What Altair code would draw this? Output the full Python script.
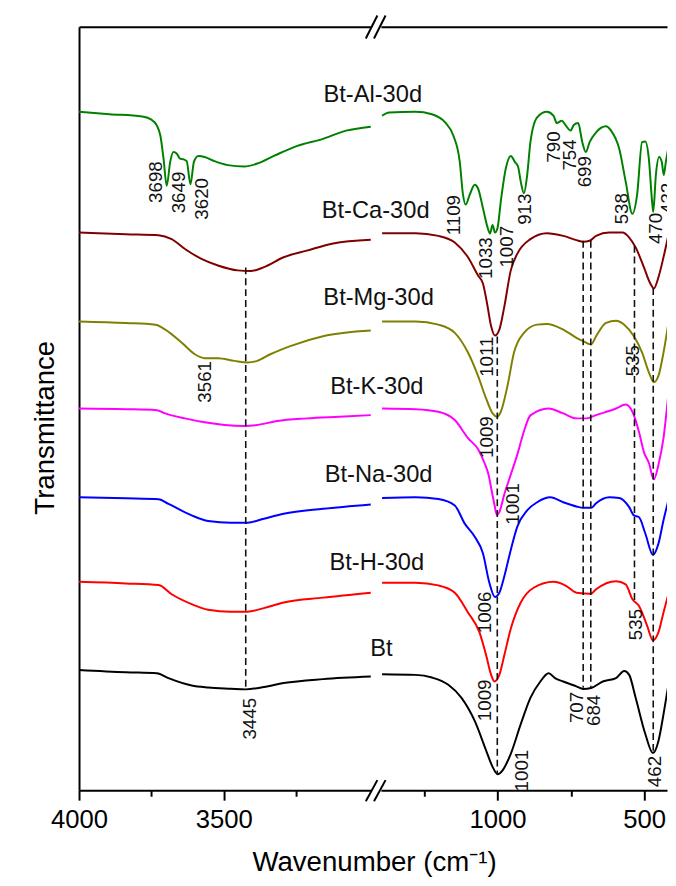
import altair as alt
import pandas as pd

FONT = "Liberation Sans"

SERIES = ["Bt-Al-30d", "Bt-Ca-30d", "Bt-Mg-30d", "Bt-K-30d", "Bt-Na-30d", "Bt-H-30d", "Bt"]
COLORS = ["#008000", "#800000", "#808000", "#FF00FF", "#0000FF", "#FF0000", "#000000"]

# wavenumber (cm-1) and transmittance (arbitrary offset units) of each spectrum
AL_WN = [4000, 3895, 3782, 3753, 3731, 3719, 3708, 3697, 3685, 3674, 3662, 3651, 3640, 3628, 3615, 3603, 3588, 3566, 3532, 3486, 3429, 3384, 3327, 3248, 3157, 3077, 2992,
         1394, 1370, 1280, 1224, 1179, 1151, 1129, 1118, 1109, 1095, 1078, 1067, 1050, 1034, 1026, 1017, 1009, 1000, 989, 972, 955, 941, 930, 921, 910, 899, 888, 865, 832, 809, 798, 781, 767, 751, 740, 725, 711, 699, 686, 664, 630, 613, 585, 563, 540, 524, 507, 496, 484, 473, 469, 460, 449, 440, 433, 426, 419]
AL_T = [687.7, 685.3, 683, 680.3, 673.7, 663.7, 640.3, 612.7, 637, 647, 645.3, 640.3, 639.7, 637.7, 614.3, 637, 643, 642, 637.7, 633.7, 632.3, 635.3, 643, 653, 660.3, 668.7, 672.7,
        683.7, 687, 687.7, 685.3, 677, 663.7, 637, 603.7, 593.7, 603.7, 613.7, 610.3, 590.3, 570.3, 564.3, 573, 565.3, 570.3, 597, 630.3, 643, 637, 632, 617, 605.3, 623.7, 657, 682, 687.7, 683.7, 676.3, 678.7, 673.7, 668.7, 674.3, 676.3, 657, 647, 657, 667, 673, 668.7, 650.3, 617, 584.3, 603.7, 657, 657.7, 640.3, 597, 586.3, 623.7, 642, 637, 623.7, 637, 648.7]

CA_WN = [4000, 3838, 3725, 3680, 3634, 3577, 3520, 3452, 3407, 3361, 3293, 3213, 3122, 2992,
         1394, 1280, 1202, 1146, 1101, 1067, 1050, 1036, 1022, 1009, 994, 977, 955, 933, 888, 832, 776, 731, 708, 686, 664, 619, 574, 551, 529, 501, 479, 467, 451, 434, 419]
CA_T = [565.3, 563.7, 562.7, 558.7, 548.7, 538.7, 532, 527, 526.3, 530.3, 540.3, 547, 554.3, 558,
        564.7, 564.7, 562, 555.3, 540.3, 522, 513.7, 493.7, 470.3, 461, 467, 490.3, 527, 543.7, 558.7, 564.7, 562, 557.7, 556, 557, 562, 565.3, 565.3, 560.3, 550.3, 530.3, 513.7, 508.7, 520.3, 540.3, 560.3]

MG_WN = [4000, 3838, 3736, 3702, 3645, 3600, 3566, 3520, 3463, 3418, 3384, 3339, 3270, 3157, 2992,
         1394, 1280, 1202, 1146, 1101, 1067, 1039, 1017, 1002, 989, 966, 944, 910, 865, 832, 776, 731, 708, 681, 664, 630, 596, 568, 535, 507, 484, 467, 451, 434, 419]
MG_T = [475.3, 473.7, 472, 467, 453.7, 442, 438, 438, 435.3, 433.7, 435.3, 442, 450.3, 460.3, 466,
        475.3, 475.3, 472, 463.7, 443.7, 420.3, 397, 382, 378.7, 383.7, 410.3, 443.7, 463.7, 472, 472.7, 467, 458.7, 455.3, 452, 460.3, 473.7, 476, 472, 460.3, 443.7, 423.7, 413.7, 420.3, 443.7, 470.3]

K_WN = [4000, 3838, 3731, 3702, 3634, 3566, 3497, 3429, 3384, 3316, 3213, 3100, 2992,
        1394, 1280, 1202, 1146, 1101, 1065, 1045, 1031, 1021, 1011, 1002, 994, 977, 955, 933, 910, 888, 826, 776, 731, 697, 664, 596, 563, 540, 518, 500, 484, 467, 451, 434, 419]
K_T = [387, 386.3, 385.3, 382, 377, 373, 370.3, 369.3, 370.3, 374.3, 377, 378.7, 380.3,
       387, 386.3, 383.7, 375.3, 357, 345, 332, 320, 305, 290, 279, 282, 300, 320, 340, 364, 380, 387, 382, 377, 377, 380.3, 387, 391, 383.7, 363.7, 342, 332, 315.3, 330.3, 357, 397]

NA_WN = [4000, 3838, 3725, 3691, 3611, 3554, 3475, 3418, 3361, 3293, 3157, 2992,
         1394, 1280, 1202, 1146, 1112, 1078, 1050, 1028, 1009, 994, 977, 955, 933, 899, 865, 820, 776, 731, 708, 681, 664, 619, 585, 551, 535, 518, 496, 470, 451, 434, 419]
NA_T = [297, 296, 295, 290.3, 278.7, 273, 271.3, 271.3, 275.3, 280.3, 285.3, 289.7,
        296.3, 297, 295.3, 288.7, 270.3, 257, 240.3, 210.3, 196, 200.3, 217, 243.7, 267, 283.7, 292, 297, 292, 287.7, 286.3, 286.3, 291, 297, 296.3, 287, 278.7, 277, 260.3, 238.7, 250.3, 273.7, 292]

H_WN = [4000, 3838, 3725, 3680, 3611, 3554, 3475, 3418, 3361, 3293, 3157, 2992,
        1394, 1280, 1202, 1146, 1101, 1062, 1039, 1022, 1011, 994, 977, 955, 921, 877, 809, 765, 731, 681, 664, 596, 563, 540, 518, 490, 470, 451, 434, 419]
H_T = [211.3, 209.7, 208, 198.7, 188.7, 183, 181, 181, 184.7, 190.3, 195.3, 200.3,
       210.3, 210.3, 207.7, 200.3, 180.3, 160.3, 137, 117, 110.3, 117, 137, 163.7, 190.3, 205.3, 211.3, 207, 200.3, 199.3, 203.7, 212, 208.7, 193.7, 187, 167, 152, 160.3, 180.3, 197]

BT_WN = [4000, 3838, 3731, 3691, 3611, 3554, 3475, 3424, 3361, 3293, 3157, 2992,
         1394, 1280, 1224, 1168, 1123, 1078, 1039, 1017, 1000, 983, 955, 921, 888, 854, 826, 804, 776, 731, 708, 681, 641, 596, 568, 551, 529, 496, 470, 451, 434, 419]
BT_T = [122, 119.7, 118.7, 113.7, 106.3, 104.3, 103, 102.3, 104.7, 108.7, 112.7, 115.3,
        117.7, 117, 114.3, 107, 93.7, 70.3, 40.3, 23.7, 16.3, 20.3, 37, 67, 93.7, 110.3, 118.7, 113.7, 110.3, 105.3, 102.7, 103.7, 110.3, 113.7, 121, 117, 93.7, 57, 37.7, 50.3, 77, 103.7]

# spectrum names placed next to the curves
NAME_WN = [2985, 2975, 2965, 2971, 2965, 2971, 2955]
NAME_T = [705, 587, 499, 409, 319, 230, 143]

# peak annotations
LEFT_PEAK_TEXT = ["3698", "3649", "3620", "3561", "3445"]
LEFT_PEAK_WN = [3733, 3655, 3575, 3563, 3409]
LEFT_PEAK_T = [616.5, 606, 599.5, 414, 72.5]

RIGHT_PEAK_TEXT = ["1109", "1033", "1007", "913", "790", "754", "699", "538", "470", "432",
                   "1011", "535", "1009", "1001", "1006", "535", "1009", "1001", "707", "684", "462"]
RIGHT_PEAK_WN = [1149, 1040, 969, 907, 808, 753, 700, 574, 460, 419,
                 1036, 539, 1036, 947, 1041, 527, 1041, 917, 729, 670, 463]
RIGHT_PEAK_T = [583, 539.5, 551, 589, 652, 644, 627, 589.5, 569.5, 600,
                439.5, 435.5, 358, 290.3, 180.3, 168, 91.2, 20, 84, 81, 19]

# dashed guide lines
LEFT_DASH_WN = [3424]
LEFT_DASH_TOP = [530]
LEFT_DASH_BOTTOM = [102]
RIGHT_DASH_WN = [1001, 708, 682, 533, 469]
RIGHT_DASH_TOP = [460, 557, 557, 552, 509]
RIGHT_DASH_BOTTOM = [16, 104, 104, 190, 37]

LEFT_DOMAIN = [2991, 4000]
RIGHT_DOMAIN = [422, 1398]
LEFT_MAJOR = [4000, 3500]
LEFT_MINOR = [3750, 3250]
RIGHT_MAJOR = [1000, 500]
RIGHT_MINOR = [1250, 750]
Y_DOMAIN = [0, 774]

# ---------------- build tables ----------------
curves = {
    "Bt-Al-30d": (AL_WN, AL_T), "Bt-Ca-30d": (CA_WN, CA_T), "Bt-Mg-30d": (MG_WN, MG_T),
    "Bt-K-30d": (K_WN, K_T), "Bt-Na-30d": (NA_WN, NA_T), "Bt-H-30d": (H_WN, H_T), "Bt": (BT_WN, BT_T),
}
rows_l, rows_r = [], []
for name, (wn, t) in curves.items():
    for w, v in zip(wn, t):
        (rows_l if w > 2000 else rows_r).append({"series": name, "wn": w, "t": v})
left_lines = pd.DataFrame(rows_l)
right_lines = pd.DataFrame(rows_r)

names_df = pd.DataFrame({"name": SERIES, "wn": NAME_WN, "t": NAME_T})
left_pk = pd.DataFrame({"label": LEFT_PEAK_TEXT, "wn": LEFT_PEAK_WN, "t": LEFT_PEAK_T})
right_pk = pd.DataFrame({"label": RIGHT_PEAK_TEXT, "wn": RIGHT_PEAK_WN, "t": RIGHT_PEAK_T})
left_dash = pd.DataFrame({"wn": LEFT_DASH_WN, "top": LEFT_DASH_TOP, "bottom": LEFT_DASH_BOTTOM})
right_dash = pd.DataFrame({"wn": RIGHT_DASH_WN, "top": RIGHT_DASH_TOP, "bottom": RIGHT_DASH_BOTTOM})
one = pd.DataFrame({"k": [0]})

yscale = alt.Scale(domain=Y_DOMAIN, nice=False, zero=False)
cscale = alt.Scale(domain=SERIES, range=COLORS)


def major_axis(values, title=None, **kw):
    return alt.Axis(orient="bottom", values=values, format="d", tickSize=10, tickWidth=2, tickColor="black",
                    domain=True, domainWidth=2, domainColor="black", grid=False,
                    labelFontSize=26, labelFont=FONT, labelColor="black", labelPadding=7,
                    labelFlush=False, title=title, titleFont=FONT, titleFontSize=28,
                    titleFontWeight="normal", titleColor="black", **kw)


def minor_axis(values):
    return alt.Axis(orient="bottom", values=values, tickSize=6, tickWidth=2, tickColor="black",
                    domain=False, labels=False, grid=False, title=None)


top_axis = alt.Axis(orient="top", domain=True, domainWidth=2, domainColor="black",
                    ticks=False, labels=False, grid=False, title=None)

y_axis = alt.Axis(orient="left", domain=True, domainWidth=2, domainColor="black", ticks=False,
                  labels=False, grid=False, title="Transmittance", titleFont=FONT, titleFontSize=28,
                  titleFontWeight="normal", titleColor="black", titlePadding=20, titleY=406)


def panel(lines_df, pk_df, dash_df, domain, width, major, minor, left):
    xs = alt.Scale(domain=domain, reverse=True, nice=False, zero=False)
    yax = y_axis if left else None
    if left:
        maxis = major_axis(major)
    else:
        maxis = major_axis(major, title="Wavenumber (cm\u207b\u00b9)", titleX=-7, titleY=81,
                           titleBaseline="alphabetic", titleAlign="center")
    lines = alt.Chart(lines_df).mark_line(strokeWidth=2, interpolate="monotone", clip=True).encode(
        x=alt.X("wn:Q", scale=xs, axis=maxis),
        y=alt.Y("t:Q", scale=yscale, axis=yax),
        color=alt.Color("series:N", scale=cscale, legend=None),
    )
    dash = alt.Chart(dash_df).mark_rule(strokeDash=[7, 4], strokeWidth=1.6, color="#111111").encode(
        x=alt.X("wn:Q", scale=xs, axis=minor_axis(minor)),
        y=alt.Y("top:Q", scale=yscale, axis=yax),
        y2="bottom:Q",
    )
    peaks = alt.Chart(pk_df).mark_text(angle=270, fontSize=19, font=FONT, color="#111111",
                                       align="center", baseline="middle", clip=not left).encode(
        x=alt.X("wn:Q", scale=xs, axis=top_axis),
        y=alt.Y("t:Q", scale=yscale, axis=yax),
        text="label:N",
    )
    layers = [lines, dash, peaks]
    if left:
        names = alt.Chart(names_df).mark_text(fontSize=24, font=FONT, color="#111111",
                                              align="center", baseline="middle").encode(
            x=alt.X("wn:Q", scale=xs, axis=None),
            y=alt.Y("t:Q", scale=yscale, axis=yax),
            text="name:N",
        )
        layers.append(names)
        # axis break marks "//" at bottom and top
        for (x1, y1, x2, y2) in [(290.7, 785, 302.4, 763.7), (299, 785, 310.7, 763.7),
                                 (290.7, 12, 302.4, -11.3), (299, 12, 310.7, -11.3)]:
            layers.append(alt.Chart(one).mark_rule(strokeWidth=2, color="black").encode(
                x=alt.value(x1), y=alt.value(y1), x2=alt.value(x2), y2=alt.value(y2)))
    return alt.layer(*layers).properties(width=width, height=774).resolve_axis(x="independent")


left = panel(left_lines, left_pk, left_dash, LEFT_DOMAIN, 296, LEFT_MAJOR, LEFT_MINOR, True)
right = panel(right_lines, right_pk, right_dash, RIGHT_DOMAIN, 290, RIGHT_MAJOR, RIGHT_MINOR, False)

chart = alt.hconcat(left, right, spacing=10, bounds="flush").properties(
    padding={"left": 23, "top": 0, "right": 0, "bottom": 0}
).configure_view(stroke="transparent")

chart.save("out.html", embed_options={"renderer": "svg", "actions": False})
